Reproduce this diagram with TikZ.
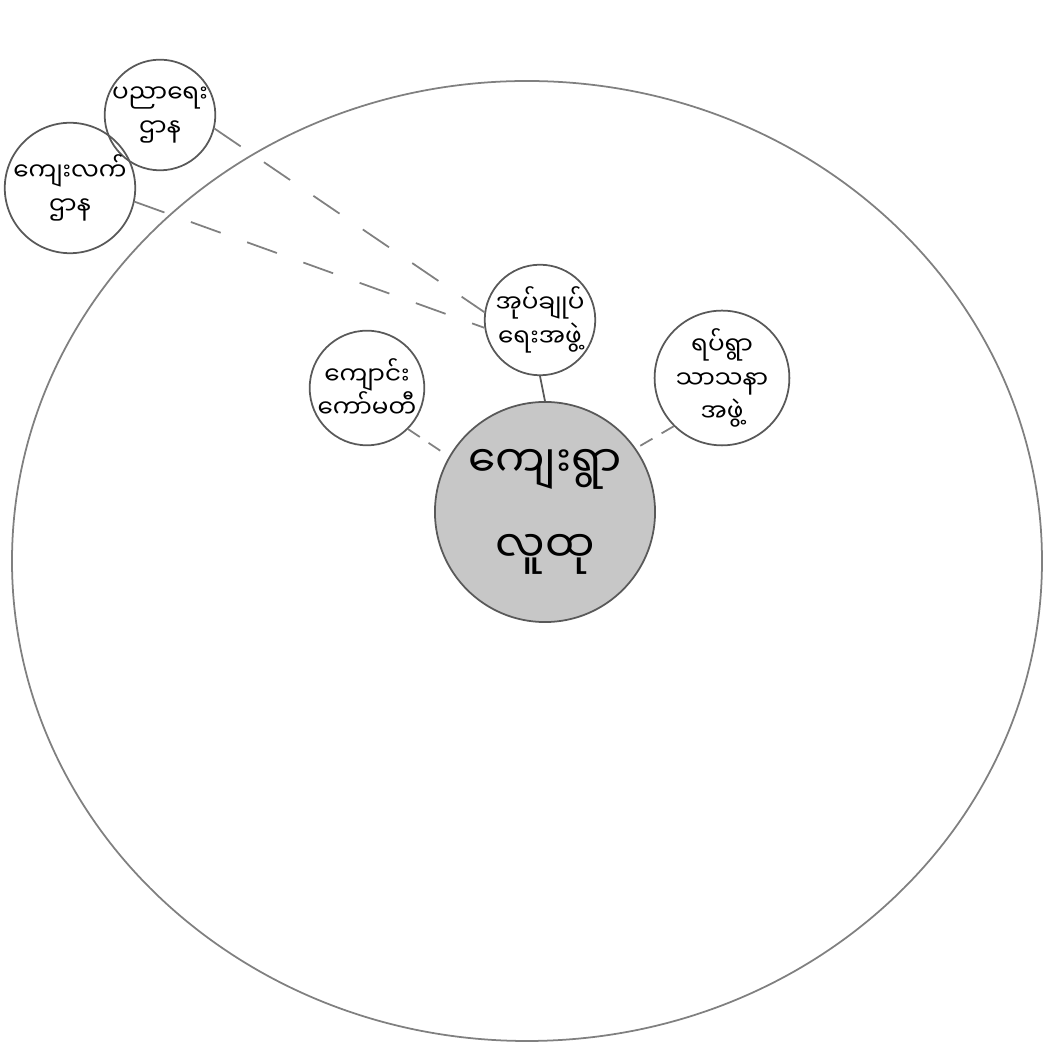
\documentclass[tikz,border=0pt]{standalone}
\usepackage{fontspec}
\newfontfamily\mmfont[Script=Myanmar]{Noto Sans Myanmar UI}

\tikzset{
    pencil/.style={draw=black!65, line width=0.5pt},
    group/.style={circle, pencil, inner sep=0pt, align=center,
        font=\mmfont\fontsize{7}{9.5}\selectfont},
    link/.style={draw=black!50, line width=0.5pt, dash pattern=on 9pt off 8pt},
    shortlink/.style={link, dash pattern=on 4pt off 3pt},
}

\begin{document}
\begin{tikzpicture}[x=0.01cm, y=-0.01cm]
            \useasboundingbox (0,0) rectangle (1050,1046);

            % village boundary
            \draw[pencil, draw=black!50] (527,561) ellipse [x radius=515, y radius=480];

            \node[group, minimum size=2.2cm, fill=black!22,
                font=\mmfont\fontsize{12.5}{24}\selectfont] (hub) at (545,512) {ကျေးရွာ\\လူထု};

            \node[group, minimum size=1.0cm] (admin) at (540,320) {အုပ်ချုပ်\\ရေးအဖွဲ့};
            \node[group, minimum size=1.1cm] (school) at (367,388) {ကျောင်း\\ကော်မတီ};
            \node[group, minimum size=1.05cm] (relig) at (722,378) {ရပ်ရွာ\\သာသနာ\\အဖွဲ့};

            \node[group, minimum size=1.1cm] (educ) at (160,115) {ပညာရေး\\ဌာန};
            \node[group, minimum size=1.2cm] (rural) at (70,188) {ကျေးလက်\\ဌာန};

            \draw[pencil] (admin.south)--(hub.north);
            \draw[shortlink] (school.-45)--(hub.150);
            \draw[shortlink] (relig.-135)--(hub.35);

            \draw[link] (educ.-14)--(admin.172);
            \draw[link] (rural.-12)--(admin.188);
        \end{tikzpicture}
\end{document}
